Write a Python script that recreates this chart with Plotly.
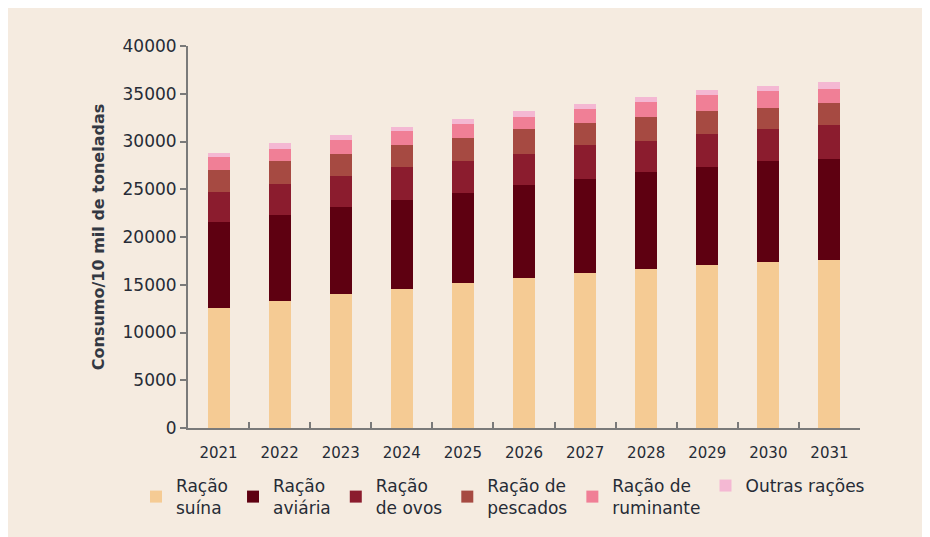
import plotly.graph_objects as go

years = ["2021", "2022", "2023", "2024", "2025", "2026", "2027", "2028", "2029", "2030", "2031"]
racao_suina = [12560, 13300, 14030, 14550, 15180, 15710, 16230, 16650, 17070, 17380, 17590]
racao_aviaria = [9000, 9000, 9110, 9320, 9420, 9740, 9840, 10160, 10260, 10580, 10580]
racao_ovos = [3140, 3250, 3250, 3460, 3350, 3250, 3560, 3250, 3460, 3350, 3560]
racao_pescados = [2300, 2410, 2300, 2300, 2410, 2620, 2300, 2510, 2410, 2200, 2300]
racao_ruminante = [1360, 1260, 1470, 1470, 1470, 1260, 1470, 1570, 1680, 1780, 1470]
outras_racoes = [420, 630, 520, 420, 520, 630, 520, 520, 520, 520, 730]

series = [
    ("Ração<br>suína", racao_suina, "#F5CB94"),
    ("Ração<br>aviária", racao_aviaria, "#5E0011"),
    ("Ração<br>de ovos", racao_ovos, "#8B1C2E"),
    ("Ração de<br>pescados", racao_pescados, "#A64A42"),
    ("Ração de<br>ruminante", racao_ruminante, "#F07F96"),
    ("Outras rações", outras_racoes, "#F4B8D3"),
]

FONT = "DejaVu Sans"
TXT = "#262B36"
BG = "#F5EBE0"

fig = go.Figure()
for name, vals, col in series:
    fig.add_trace(go.Bar(x=years, y=vals, name=name, marker=dict(color=col, line=dict(width=0)),
                         hoverinfo="skip"))

# page has an 8px body margin
OFF = 8
W, H = 930, 537
ml, mt = 188 - OFF, 46 - OFF
pw, ph = 672, 382
mr, mb = W - ml - pw, H - mt - ph

def px_x(p):
    return (p - OFF - ml) / pw

def px_y(p):
    return (mt + ph - (p - OFF)) / ph

fig.update_layout(
    width=W, height=H,
    barmode="stack", bargap=0.64,
    paper_bgcolor=BG, plot_bgcolor=BG,
    margin=dict(l=ml, r=mr, t=mt, b=mb, pad=0),
    font=dict(family=FONT, color=TXT, size=15),
    showlegend=True,
    legend=dict(orientation="h", x=px_x(136), xanchor="left", y=px_y(497), yanchor="middle",
                font=dict(size=17, color=TXT), bgcolor="rgba(0,0,0,0)",
                traceorder="normal", itemwidth=30, itemclick=False, valign="middle"),
    xaxis=dict(type="category", range=[-0.5, 10.5], showline=True, linecolor="#7A7A7A", linewidth=2,
               ticks="inside", tickson="boundaries", ticklen=6, tickcolor="#7A7A7A", tickwidth=2,
               tickfont=dict(size=15, color=TXT), ticklabelstandoff=10,
               showgrid=False, zeroline=False),
    yaxis=dict(range=[0, 40000], dtick=5000, tickformat="d", showline=True, linecolor="#7A7A7A",
               linewidth=2, ticks="outside", ticklen=6, tickcolor="#7A7A7A", tickwidth=2,
               tickfont=dict(size=17, color=TXT), showgrid=False, zeroline=False,
               title=dict(text="Consumo/10 mil de toneladas", font=dict(size=16, color="#333842", weight="bold"),
                          standoff=14)),
)

fig.write_html("out.html")
